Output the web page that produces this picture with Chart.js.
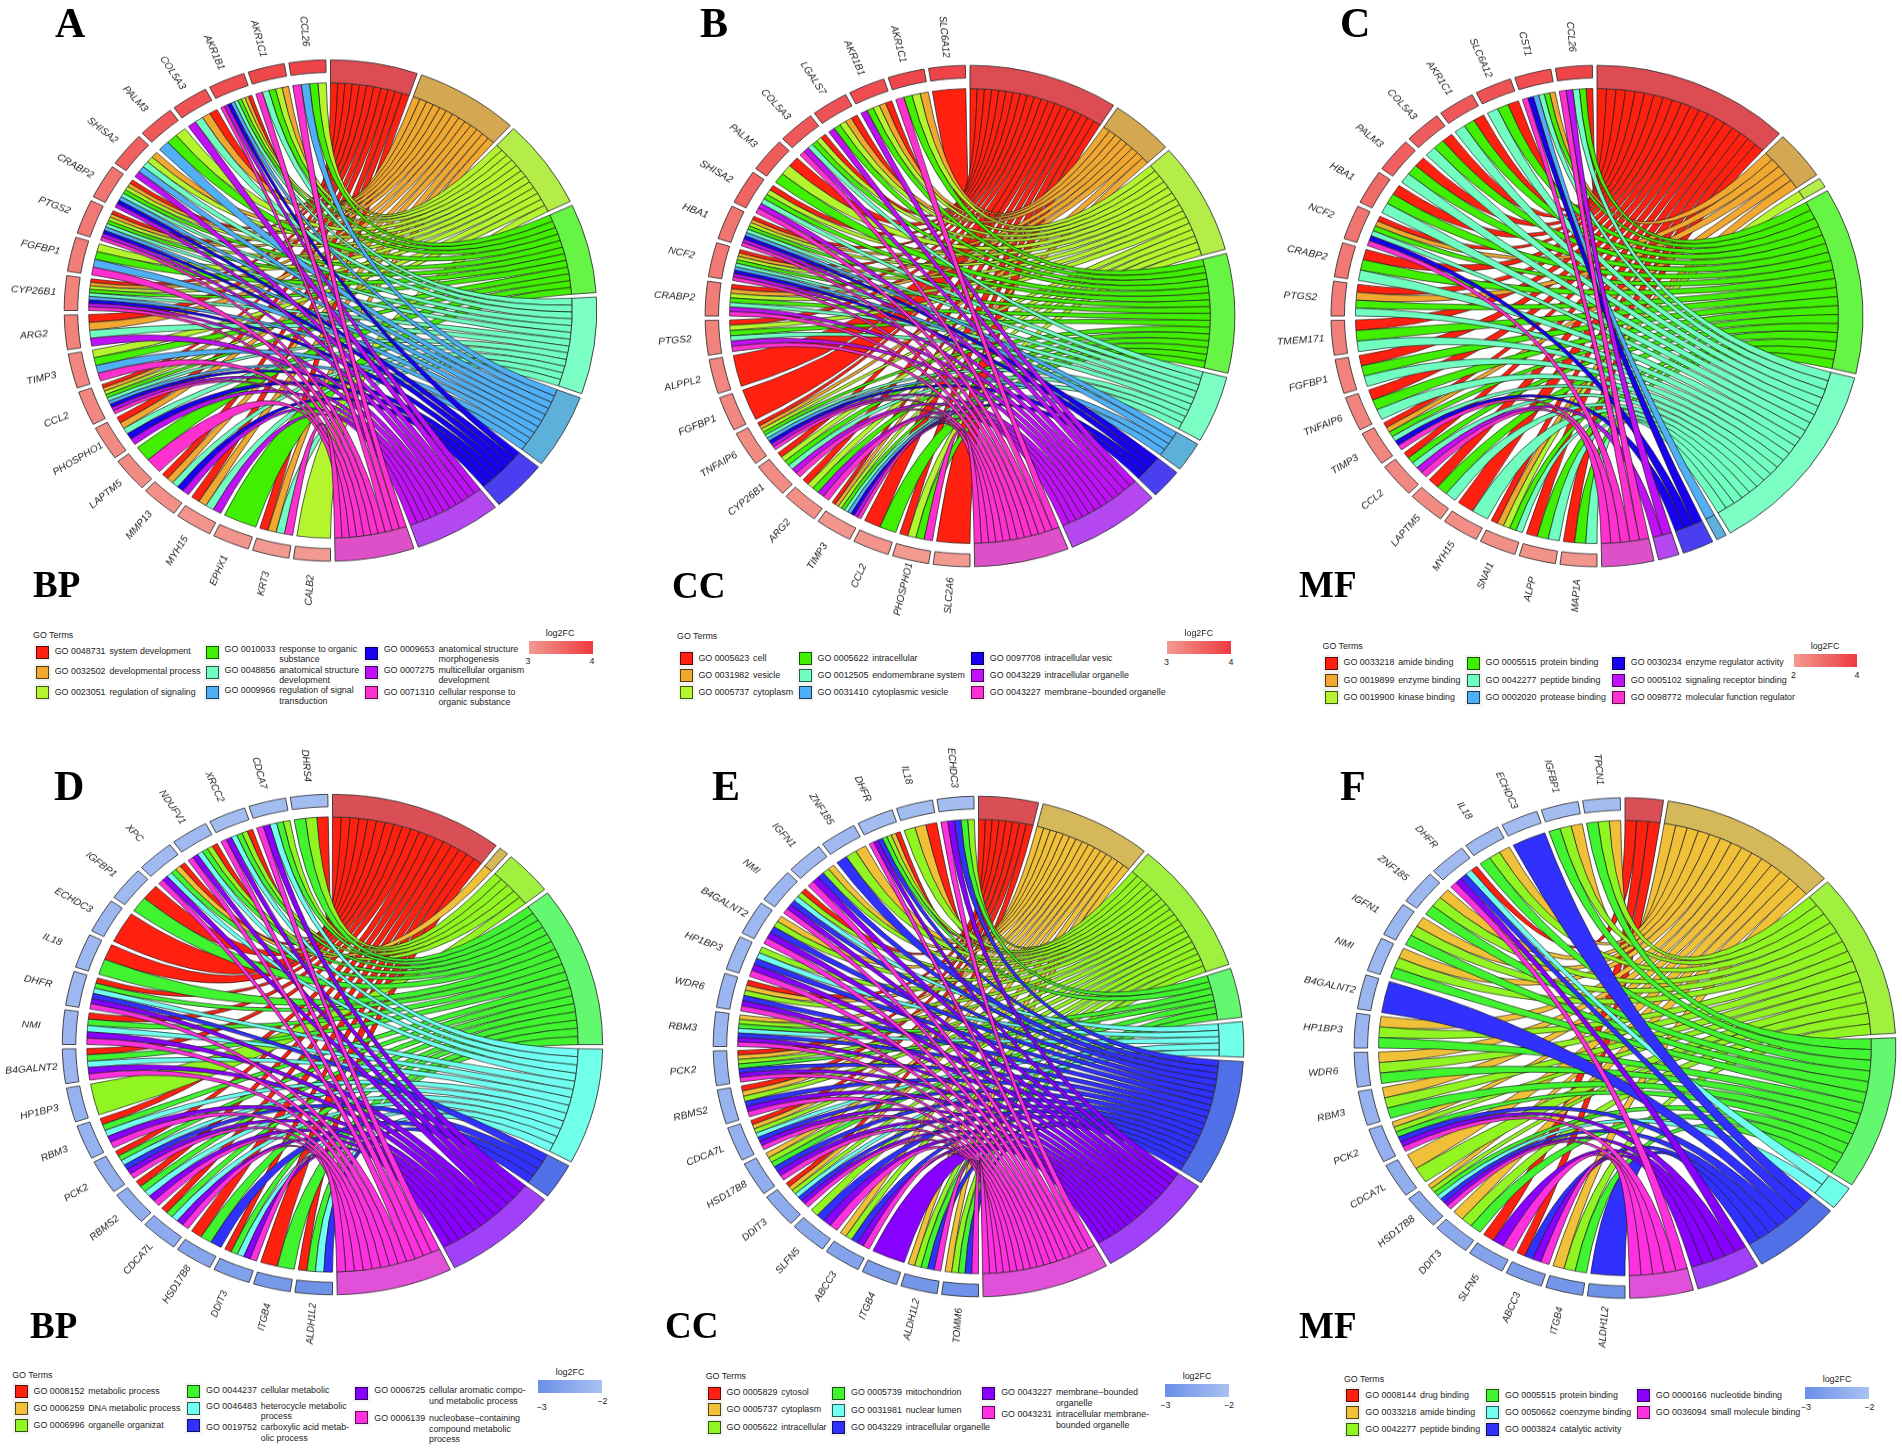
<!DOCTYPE html>
<html>
<head>
<meta charset="utf-8">
<title>GO chord diagrams</title>
<script src="https://cdn.jsdelivr.net/npm/chart.js@4"></script>
<style>
body { margin: 0; background: #fff; }
#page { position: relative; width: 1902px; height: 1450px; overflow: hidden; font-family: "Liberation Sans", Arial, sans-serif; color: #222; }
#page canvas { position: absolute; }
.t { position: absolute; white-space: nowrap; font-size: 8.9px; line-height: 10.7px; z-index: 2; }
.t .id { display: inline-block; width: 54.7px; vertical-align: top; }
.t .ds { display: inline-block; vertical-align: top; }
.sw { position: absolute; width: 11px; height: 11px; border: 1px solid rgba(0,0,0,.65); outline: 2px solid #f3f3f3; z-index: 2; }
.bar { position: absolute; z-index: 2; }
.big { position: absolute; font-family: "Liberation Serif", "Times New Roman", serif; font-weight: bold; line-height: 1; color: #000; z-index: 2; }
</style>
</head>
<body>
<div id="page"></div>
<script>
// ---- panel A (BP, up)
const genesA = ['CALB2','KRT3','EPHX1','MYH15','MMP13','LAPTM5','PHOSPHO1','CCL2','TIMP3','ARG2','CYP26B1','FGFBP1','PTGS2','CRABP2','SHISA2','PALM3','COL5A3','AKR1B1','AKR1C1','CCL26'];
const lfcA = [3.0,3.0,3.05,3.05,3.1,3.15,3.15,3.2,3.2,3.25,3.25,3.3,3.35,3.4,3.6,3.7,3.75,3.8,3.85,3.9];
const termsA = ['GO 0048731 system development','GO 0032502 developmental process','GO 0023051 regulation of signaling','GO 0010033 response to organic\nsubstance','GO 0048856 anatomical structure\ndevelopment','GO 0009966 regulation of signal\ntransduction','GO 0009653 anatomical structure\nmorphogenesis','GO 0007275 multicellular organism\ndevelopment','GO 0071310 cellular response to\norganic substance'];
const linksA = [[3],[9,5,2,1],[4],[8,5,2,1],[8,7,5,2,1],[9,4],[8,7,5,2,1],[9,8,7,6,5,4,3,2,1],[9,6,4,3],[8,5,2,1],[9,8,7,6,5,4,3,2,1],[9,6,4,3],[9,8,7,6,5,4,3,2,1],[8,7,6,5,4,3,2,1],[8,6,5,3,2],[6,4,3],[8,5,2,1],[9,8,7,6,5,4,3,2,1],[9,5,4,3,2],[9,6,4,3]];

// ---- panel B (CC, up)
const genesB = ['SLC2A6','PHOSPHO1','CCL2','TIMP3','ARG2','CYP26B1','TNFAIP6','FGFBP1','ALPPL2','PTGS2','CRABP2','NCF2','HBA1','SHISA2','PALM3','COL5A3','LGALS7','AKR1B1','AKR1C1','SLC6A12'];
const lfcB = [3.0,3.0,3.05,3.05,3.1,3.15,3.15,3.2,3.2,3.25,3.3,3.35,3.4,3.55,3.65,3.7,3.75,3.8,3.85,3.9];
const termsB = ['GO 0005623 cell','GO 0031982 vesicle','GO 0005737 cytoplasm','GO 0005622 intracellular','GO 0012505 endomembrane system','GO 0031410 cytoplasmic vesicle','GO 0097708 intracellular vesic','GO 0043229 intracellular organelle','GO 0043227 membrane\u2212bounded organelle'];
const linksB = [[1],[9,4,3,1],[4,1],[9,8,7,6,5,4,3,2,1],[9,8,4,3,1],[9,8,5,4,3,1],[9,8,7,6,5,4,3,2,1],[1],[1],[9,8,5,4,3,1],[9,8,5,4,3,2,1],[9,8,7,6,5,4,3,2,1],[9,8,7,6,5,4,3,2,1],[9,8,5,4,3,1],[4,3,1],[9,8,5,4,3,1],[8,4,3,2,1],[8,4,3,2,1],[9,4,3,2],[1]];

// ---- panel C (MF, up)
const genesC = ['MAP1A','ALPP','SNAI1','MYH15','LAPTM5','CCL2','TIMP3','TNFAIP6','FGFBP1','TMEM171','PTGS2','CRABP2','NCF2','HBA1','PALM3','COL5A3','AKR1C1','SLC6A12','CST1','CCL26'];
const lfcC = [2.1,2.15,2.2,2.25,2.3,2.35,2.4,2.45,2.5,2.55,2.6,2.7,2.8,3.0,3.2,3.3,3.4,3.5,3.6,3.8];
const termsC = ['GO 0033218 amide binding','GO 0019899 enzyme binding','GO 0019900 kinase binding','GO 0005515 protein binding','GO 0042277 peptide binding','GO 0002020 protease binding','GO 0030234 enzyme regulator activity','GO 0005102 signaling receptor binding','GO 0098772 molecular function regulator'];
const linksC = [[5,4,1],[5,4,1],[5,4,3,2,1],[5,1],[5,4,1],[9,8,5,4,1],[9,7,5,4,2,1],[5,4,1],[5,4,1],[5,4,1],[5,4,2,1],[5,4,1],[9,7,5,4,2,1],[5,4,1],[5,4,1],[5,4,1],[5,4,1],[5,4,1],[9,7,6,5,4,2],[9,8,5,4,1]];

// ---- panel D (BP, down)
const genesD = ['ALDH1L2','ITGB4','DDIT3','HSD17B8','CDCA7L','RBMS2','PCK2','RBM3','HP1BP3','B4GALNT2','NMI','DHFR','IL18','ECHDC3','IGFBP1','XPC','NDUFV1','XRCC2','CDCA7','DHRS4'];
const lfcD = [-2.95,-2.8,-2.65,-2.55,-2.45,-2.4,-2.35,-2.3,-2.3,-2.25,-2.25,-2.2,-2.2,-2.2,-2.15,-2.15,-2.15,-2.1,-2.1,-2.1];
const termsD = ['GO 0008152 metabolic process','GO 0006259 DNA metabolic process','GO 0006996 organelle organizat','GO 0044237 cellular metabolic','GO 0046483 heterocycle metabolic\nprocess','GO 0019752 carboxylic acid metab-\nolic process','GO 0006725 cellular aromatic compo-\nund metabolic process','GO 0006139 nucleobase\u2212containing\ncompound metabolic\nprocess'];
const linksD = [[6,5,4,1],[4,1],[8,7,5,4,1],[6,4,1],[8,7,5,4,1],[8,7,5,4,1],[8,7,6,5,4,1],[8,7,5,4,1],[3],[8,7,5,4,1],[8,7,5,4,1],[8,7,6,5,4,1],[4,1],[1],[4,1],[8,7,5,4,2,1],[8,7,5,4,3,1],[8,7,5,4,3,1],[8,7,5,4,3],[4,3,1]];

// ---- panel E (CC, down)
const genesE = ['TOMM6','ALDH1L2','ITGB4','ABCC3','SLFN5','DDIT3','HSD17B8','CDCA7L','RBMS2','PCK2','RBM3','WDR6','HP1BP3','B4GALNT2','NMI','IGFN1','ZNF185','DHFR','IL18','ECHDC3'];
const lfcE = [-2.95,-2.85,-2.7,-2.6,-2.5,-2.45,-2.4,-2.35,-2.3,-2.3,-2.25,-2.25,-2.2,-2.2,-2.2,-2.15,-2.15,-2.1,-2.1,-2.1];
const termsE = ['GO 0005829 cytosol','GO 0005737 cytoplasm','GO 0005622 intracellular','GO 0005739 mitochondrion','GO 0031981 nuclear lumen','GO 0043229 intracellular organelle','GO 0043227 membrane\u2212bounded\norganelle','GO 0043231 intracellular membrane-\nbounded organelle'];
const linksE = [[8,6,4,3,2],[8,6,4,3,2],[7],[8,7,6,3,2],[8,7,6,3],[8,7,6,5,3,2,1],[8,7,6,4,3,2],[8,7,6,5,3,2,1],[8,7,6,3,2,1],[8,7,6,4,3,2,1],[8,7,6,5,4,3,2],[8,7,6,3,2,1],[8,7,6,5,3],[8,7,6,3,2],[8,7,6,5,3,1],[8,7,6,3,2],[6,3,2],[8,7,6,4,3,2,1],[3,2,1],[8,7,6,4,3]];

// ---- panel F (MF, down)
const genesF = ['ALDH1L2','ITGB4','ABCC3','SLFN5','DDIT3','HSD17B8','CDCA7L','PCK2','RBM3','WDR6','HP1BP3','B4GALNT2','NMI','IGFN1','ZNF185','DHFR','IL18','ECHDC3','IGFBP1','TPCN1'];
const lfcF = [-2.95,-2.85,-2.7,-2.6,-2.5,-2.45,-2.4,-2.35,-2.3,-2.3,-2.25,-2.25,-2.2,-2.2,-2.2,-2.15,-2.15,-2.1,-2.1,-2.1];
const termsF = ['GO 0008144 drug binding','GO 0033218 amide binding','GO 0042277 peptide binding','GO 0005515 protein binding','GO 0050662 coenzyme binding','GO 0003824 catalytic activity','GO 0000166 nucleotide binding','GO 0036094 small molecule binding'];
const linksF = [[6],[4,3,2],[8,7,6,1],[8,7,1],[4,3,2],[8,7,6,5,4,3,2],[3,2],[8,7,6,4,3,2],[4,3,2],[4,3,2],[4,3,2],[6],[4,3,2],[4,3,2],[4,3,2],[8,7,6,5,1],[4,3,2],[6],[4,3,2],[4,3,2]];

// colours
const ribbonUp = ['#FF2010','#F0A830','#B4F52E','#40F000','#70FFC0','#50B0F5','#1800F0','#C010F5','#FF30D0'];
const ringUp = ['#DC4C52','#D4A850','#B4EC48','#66F544','#7CFFC4','#5DB0DA','#4A3FF0','#B447EF','#DE50C8'];
const ribbonDown = ['#FF2010','#F0C038','#90F520','#40F530','#70FFF0','#3030FF','#8800FF','#FF30E0'];
const ringDown = ['#DA4F55','#D4B85A','#A0F040','#62F870','#70FFE8','#5070E8','#A040F8','#E050D8'];
const lfcRed = ['#F29A90', '#EE3A40'];   // low -> high
const lfcBlue = ['#6C8FE8', '#A9C2F2'];

const GAP = 1;          // degrees between slices
const TERM_W = 24.5, GENE_W = 13.5;   // ring thickness px

function mix(hexA, hexB, f) {
    const a = parseInt(hexA.slice(1), 16), b = parseInt(hexB.slice(1), 16);
    const ch = s => Math.round(((a >> s) & 255) * (1 - f) + ((b >> s) & 255) * f);
    return `rgb(${ch(16)},${ch(8)},${ch(0)})`;
}

// ribbons are quadratic curves through the centre, hung on the arcs the doughnut computed
const chordPlugin = {
    id: 'chord',
    afterDatasetsUpdate(chart, args, o) {
        const arcs = chart.getDatasetMeta(0).data;
        o.genes.forEach((g, j) => {
            const arc = arcs[2 * o.terms + 2 * j];
            arc.innerRadius = arc.outerRadius - GENE_W;
        });
    },
    beforeDatasetsDraw(chart, args, o) {
        const arcs = chart.getDatasetMeta(0).data;
        const ctx = chart.ctx;
        const cx = arcs[0].x, cy = arcs[0].y;
        const r = arcs[0].outerRadius - TERM_W;
        ctx.save();
        ctx.lineWidth = 0.7;
        ctx.strokeStyle = '#1a1a1a';
        for (let t = 1; t <= o.terms; t++) {
            const tArc = arcs[2 * (t - 1)];
            // clockwise along a term the genes run from the last one back to the first
            const members = o.genes.map((g, j) => j).filter(j => o.links[j].includes(t)).reverse();
            const tw = (tArc.endAngle - tArc.startAngle) / members.length;
            members.forEach((j, k) => {
                const gArc = arcs[2 * o.terms + 2 * j];
                const list = o.links[j];
                const gw = (gArc.endAngle - gArc.startAngle) / list.length;
                const g0 = gArc.startAngle + gw * list.indexOf(t), g1 = g0 + gw;
                const t0 = tArc.startAngle + tw * k, t1 = t0 + tw;
                ctx.beginPath();
                ctx.arc(cx, cy, r, t0, t1);
                ctx.quadraticCurveTo(cx, cy, cx + r * Math.cos(g0), cy + r * Math.sin(g0));
                ctx.arc(cx, cy, r, g0, g1);
                ctx.quadraticCurveTo(cx, cy, cx + r * Math.cos(t0), cy + r * Math.sin(t0));
                ctx.closePath();
                ctx.fillStyle = o.ribbon[t - 1];
                ctx.fill();
                ctx.stroke();
            });
        }
        ctx.restore();
    },
    afterDatasetsDraw(chart, args, o) {
        const arcs = chart.getDatasetMeta(0).data;
        const ctx = chart.ctx;
        ctx.save();
        ctx.font = 'italic 10.3px "Liberation Sans", Arial, sans-serif';
        ctx.fillStyle = '#222';
        ctx.textAlign = 'center';
        ctx.textBaseline = 'middle';
        o.genes.forEach((g, j) => {
            const arc = arcs[2 * o.terms + 2 * j];
            const mid = (arc.startAngle + arc.endAngle) / 2;
            const rr = arc.outerRadius * 1.118;
            ctx.save();
            ctx.translate(arc.x + rr * Math.cos(mid), arc.y + rr * Math.sin(mid));
            ctx.rotate(mid + Math.PI);
            ctx.fillText(g, 0, 0);
            ctx.restore();
        });
        ctx.restore();
    }
};

function makeChord(p) {
    const S = Math.ceil(2 * (p.rx + 62));
    const canvas = document.createElement('canvas');
    canvas.width = S;
    canvas.height = S;
    canvas.style.left = (p.cx - S / 2) + 'px';
    canvas.style.top = (p.cy - S / 2) + 'px';
    canvas.style.transform = `scaleY(${p.ry / p.rx})`;
    document.getElementById('page').appendChild(canvas);

    const nT = p.terms.length;
    const counts = p.terms.map((t, i) => p.links.filter(l => l.includes(i + 1)).length);
    const total = counts.reduce((a, b) => a + b, 0);
    const termDeg = counts.map(c => (180 - nT * GAP) * c / total);
    const geneDeg = (180 - p.genes.length * GAP) / p.genes.length;

    const data = [], background = [], border = [];
    termDeg.forEach((d, i) => {
        data.push(d, GAP);
        background.push(p.ring[i], 'transparent');
        border.push(0.9, 0);
    });
    p.genes.forEach((g, j) => {
        const f = (p.lfc[j] - p.lfcRange[0]) / (p.lfcRange[1] - p.lfcRange[0]);
        data.push(geneDeg, GAP);
        background.push(mix(p.lfcColors[0], p.lfcColors[1], f), 'transparent');
        border.push(0.9, 0);
    });

    new Chart(canvas, {
        type: 'doughnut',
        data: { labels: data.map((d, i) => i), datasets: [{
            data: data,
            backgroundColor: background,
            borderColor: '#333',
            borderWidth: border,
            borderJoinStyle: 'miter',
            hoverOffset: 0
        }] },
        options: {
            responsive: false,
            animation: false,
            events: [],
            radius: p.rx,
            cutout: ((p.rx - TERM_W) / p.rx * 100) + '%',
            plugins: {
                legend: { display: false },
                tooltip: { enabled: false },
                chord: { genes: p.genes, terms: nT, links: p.links, ribbon: p.ribbon }
            }
        },
        plugins: [chordPlugin]
    });
}

function addText(html, left, cy, extra) {
    const d = document.createElement('div');
    d.className = 't';
    d.innerHTML = html;
    d.style.left = left + 'px';
    d.style.top = (cy - 5.35) + 'px';
    if (extra) Object.assign(d.style, extra);
    document.getElementById('page').appendChild(d);
    return d;
}

function addBig(text, left, baseline, size) {
    const d = document.createElement('div');
    d.className = 'big';
    d.textContent = text;
    d.style.fontSize = size + 'px';
    d.style.left = left + 'px';
    d.style.top = (baseline - 0.8375 * size) + 'px';
    document.getElementById('page').appendChild(d);
}

function makeLegend(p) {
    const page = document.getElementById('page');
    const L = p.legend;
    addText('GO Terms', L.title[0], L.title[1]);
    p.terms.forEach((label, i) => {
        const [sx, sy, tx, ty] = L.items[i];
        const sw = document.createElement('div');
        sw.className = 'sw';
        sw.style.left = sx + 'px';
        sw.style.top = (sy - 6) + 'px';
        sw.style.background = p.ribbon[i];
        page.appendChild(sw);
        const id = label.slice(0, 10), rest = label.slice(11).split('\n').join('<br>');
        addText(`<span class="id">${id}</span><span class="ds">${rest}</span>`, tx, ty);
    });
    // colour key
    const [x0, x1, y0, y1] = L.bar;
    const bar = document.createElement('div');
    bar.className = 'bar';
    bar.style.left = x0 + 'px';
    bar.style.top = y0 + 'px';
    bar.style.width = (x1 - x0) + 'px';
    bar.style.height = (y1 - y0) + 'px';
    bar.style.background = `linear-gradient(to right, ${p.lfcColors[0]}, ${p.lfcColors[1]})`;
    page.appendChild(bar);
    const centred = { transform: 'translateX(-50%)' };
    addText('log2FC', L.barTitle[0], L.barTitle[1], centred);
    L.ticks.forEach(tk => addText(tk[0], tk[1], tk[2], centred));
}

// legend item = [swatch x, swatch centre y, text x, first line centre y]
const panels = [
    { genes: genesA, lfc: lfcA, terms: termsA, links: linksA, ribbon: ribbonUp, ring: ringUp, lfcColors: lfcRed, lfcRange: [3, 4],
      cx: 330.4, cy: 310, rx: 266.3, ry: 250.7,
      legend: { title: [33, 635], bar: [528.6, 592.6, 641, 654], barTitle: [560, 633.3], ticks: [['3', 528, 661.7], ['4', 592, 661.7]],
        items: [[36, 651.7, 54.7, 651.7], [36, 671.7, 54.7, 671.7], [36, 692.3, 54.7, 692.3],
                [206, 652.3, 224.5, 649], [206, 671.7, 224.5, 670], [206, 692.3, 224.5, 690.7],
                [364.5, 652.7, 383.7, 649], [364.5, 671.7, 383.7, 670], [364.5, 692.3, 383.7, 692]] } },
    { genes: genesB, lfc: lfcB, terms: termsB, links: linksB, ribbon: ribbonUp, ring: ringUp, lfcColors: lfcRed, lfcRange: [3, 4],
      cx: 970.2, cy: 315.7, rx: 264.9, ry: 250.7,
      legend: { title: [677, 636.7], bar: [1166.5, 1231, 641, 654], barTitle: [1198.8, 633.3], ticks: [['3', 1166.5, 662], ['4', 1231, 662]],
        items: [[679.6, 658.3, 698.4, 658.3], [679.6, 675.3, 698.4, 675.3], [679.6, 692, 698.4, 692],
                [798.8, 658.3, 817.5, 658.3], [798.8, 675.3, 817.5, 675.3], [798.8, 692, 817.5, 692],
                [971.4, 658.3, 989.8, 658.3], [971.4, 675.3, 989.8, 675.3], [971.4, 692, 989.8, 692]] } },
    { genes: genesC, lfc: lfcC, terms: termsC, links: linksC, ribbon: ribbonUp, ring: ringUp, lfcColors: lfcRed, lfcRange: [2, 4],
      cx: 1597.3, cy: 315.7, rx: 266, ry: 250.7,
      legend: { title: [1322.5, 646.7], bar: [1793.5, 1857.4, 654.3, 667.3], barTitle: [1825, 646.7], ticks: [['2', 1793.5, 675], ['4', 1857, 675]],
        items: [[1324.8, 662.7, 1343.5, 662.7], [1324.8, 680, 1343.5, 680], [1324.8, 697, 1343.5, 697],
                [1466.9, 662.7, 1485.6, 662.7], [1466.9, 680, 1485.6, 680], [1466.9, 697, 1485.6, 697],
                [1612, 662.7, 1630.8, 662.7], [1612, 680, 1630.8, 680], [1612, 697, 1630.8, 697]] } },
    { genes: genesD, lfc: lfcD, terms: termsD, links: linksD, ribbon: ribbonDown, ring: ringDown, lfcColors: lfcBlue, lfcRange: [-3, -2],
      cx: 332.2, cy: 1044.6, rx: 270.2, ry: 250.3,
      legend: { title: [12.2, 1375], bar: [538, 602.4, 1380.3, 1393.3], barTitle: [570, 1372.7], ticks: [['\u22123', 541.6, 1407.3], ['\u22122', 602.4, 1401]],
        items: [[14.7, 1391.3, 33.5, 1391.3], [14.7, 1408.3, 33.5, 1408.3], [14.7, 1425.3, 33.5, 1425.3],
                [187.3, 1391.3, 206.1, 1390.7], [187.3, 1408, 206.1, 1406], [187.3, 1425.3, 206.1, 1427.3],
                [355, 1393.3, 374.3, 1390.7], [355, 1417, 374.3, 1418.3]] } },
    { genes: genesE, lfc: lfcE, terms: termsE, links: linksE, ribbon: ribbonDown, ring: ringDown, lfcColors: lfcBlue, lfcRange: [-3, -2],
      cx: 978.8, cy: 1046.1, rx: 265.3, ry: 250.3,
      legend: { title: [705.7, 1376.7], bar: [1164.9, 1229, 1384, 1397.3], barTitle: [1197, 1376.7], ticks: [['\u22123', 1165.3, 1405], ['\u22122', 1229, 1405]],
        items: [[707.8, 1392.7, 726.5, 1392.7], [707.8, 1409.3, 726.5, 1409.3], [707.8, 1427, 726.5, 1427],
                [832.2, 1392.7, 851, 1392.7], [832.2, 1410, 851, 1410], [832.2, 1427, 851, 1427],
                [982.4, 1392.7, 1001.2, 1392.7], [982.4, 1411.7, 1001.2, 1414.3]] } },
    { genes: genesF, lfc: lfcF, terms: termsF, links: linksF, ribbon: ribbonDown, ring: ringDown, lfcColors: lfcBlue, lfcRange: [-3, -2],
      cx: 1624.7, cy: 1048.4, rx: 270.9, ry: 250.3,
      legend: { title: [1343.9, 1379], bar: [1805, 1869.3, 1386.7, 1399.3], barTitle: [1837, 1379], ticks: [['\u22123', 1805.8, 1407], ['\u22122', 1869.3, 1407]],
        items: [[1346.3, 1395.3, 1365.3, 1395.3], [1346.3, 1412, 1365.3, 1412], [1346.3, 1429.3, 1365.3, 1429.3],
                [1486.3, 1395.3, 1505, 1395.3], [1486.3, 1412, 1505, 1412], [1486.3, 1429.3, 1505, 1429.3],
                [1637.1, 1395.3, 1655.8, 1395.3], [1637.1, 1412, 1655.8, 1412]] } }
];

panels.forEach(p => { makeChord(p); makeLegend(p); });

// panel letters and ontology tags
addBig('A', 55, 37.5, 42);
addBig('B', 700, 37, 42);
addBig('C', 1340, 37, 42);
addBig('D', 54, 800, 42);
addBig('E', 712, 800, 42);
addBig('F', 1340, 800, 42);
addBig('BP', 33, 597, 37);
addBig('CC', 672, 598, 37);
addBig('MF', 1299, 597, 37);
addBig('BP', 30, 1338, 37);
addBig('CC', 665, 1338, 37);
addBig('MF', 1299, 1338, 37);
</script>
</body>
</html>
